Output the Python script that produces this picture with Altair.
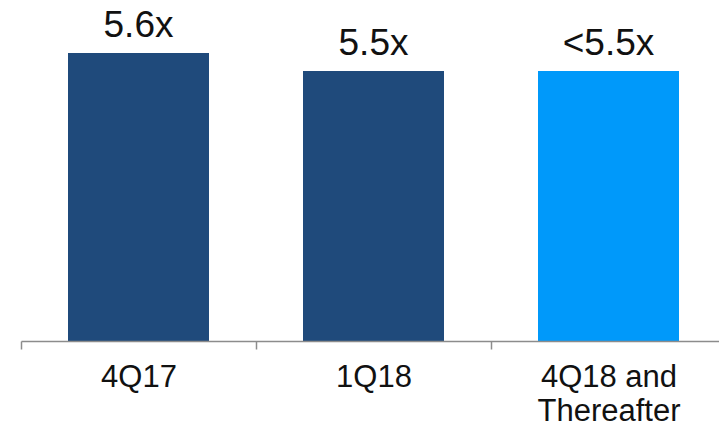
import altair as alt
import pandas as pd

# Net leverage by period
periods = ["4Q17", "1Q18", "4Q18 and\nThereafter"]
leverage = [5.6, 5.5, 5.5]
value_labels = ["5.6x", "5.5x", "<5.5x"]
bar_colors = ["#1F4A7B", "#1F4A7B", "#0099FA"]
axis_floor = 4.0

df = pd.DataFrame({
    "period": periods,
    "leverage": leverage,
    "label": value_labels,
})

font = "Liberation Sans"

# Full-step bands so the ticks fall midway between bars
x_scale = alt.Scale(paddingInner=0, paddingOuter=0, range=[0, 705])

x_enc = alt.X(
    "period:N",
    sort=periods,
    scale=x_scale,
    axis=alt.Axis(
        title=None,
        labelAngle=0,
        labelFont=font,
        labelFontSize=31,
        labelColor="#111111",
        labelPadding=13,
        labelLineHeight=34,
        labelExpr="split(datum.label, '\\n')",
        tickBand="extent",
        tickSize=8,
        tickColor="#8c8c8c",
        tickWidth=1.5,
        domainColor="#8c8c8c",
        domainWidth=1.5,
        grid=False,
        zindex=1,
    ),
)

y_scale = alt.Scale(domain=[axis_floor, 5.85], zero=False, nice=False)

bars = alt.Chart(df).mark_bar(width=alt.RelativeBandSize(0.6)).encode(
    x=x_enc,
    y=alt.Y("leverage:Q", scale=y_scale, axis=None),
    y2=alt.datum(axis_floor),
    color=alt.Color(
        "period:N",
        scale=alt.Scale(domain=periods, range=bar_colors),
        legend=None,
    ),
)

labels = alt.Chart(df).mark_text(
    font=font, fontSize=37, color="#111111", baseline="alphabetic", dy=-16
).encode(
    x=alt.X("period:N", sort=periods),
    y=alt.Y("leverage:Q", scale=y_scale, axis=None),
    text="label:N",
)

chart = (
    alt.layer(bars, labels)
    .properties(
        width=698,
        height=333,
        autosize=alt.AutoSizeParams(type="none"),
        padding={"left": 21, "top": 8, "right": 0, "bottom": 86},
        background="white",
    )
    .configure_view(stroke=None)
)

chart.save("out.html", embed_options={"renderer": "svg", "actions": False})
